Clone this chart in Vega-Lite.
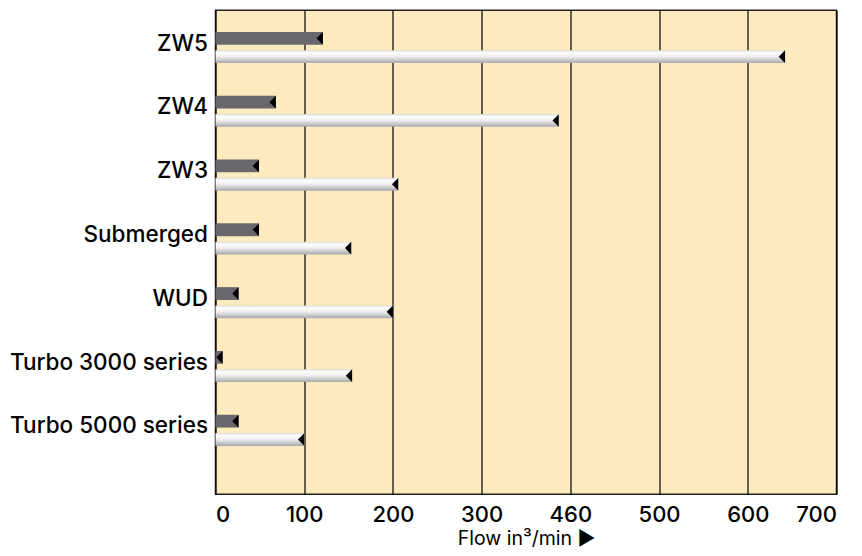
{
  "$schema": "https://vega.github.io/schema/vega-lite/v6.json",
  "autosize": {"type": "none"},
  "padding": {"left": 215.5, "top": 10.3, "right": 25.5, "bottom": 61.7},
  "width": 621,
  "height": 484,
  "background": "white",
  "config": {
    "view": {"fill": "#fdebbf", "stroke": "#222222", "strokeWidth": 1.5},
    "font": "Inter"
  },
  "data": {
    "values": [
      {"cat": "ZW5", "series": "a", "value": 121},
      {"cat": "ZW5", "series": "b", "value": 642},
      {"cat": "ZW4", "series": "a", "value": 68},
      {"cat": "ZW4", "series": "b", "value": 387},
      {"cat": "ZW3", "series": "a", "value": 49},
      {"cat": "ZW3", "series": "b", "value": 206},
      {"cat": "Submerged", "series": "a", "value": 49},
      {"cat": "Submerged", "series": "b", "value": 153},
      {"cat": "WUD", "series": "a", "value": 26},
      {"cat": "WUD", "series": "b", "value": 200},
      {"cat": "Turbo 3000 series", "series": "a", "value": 8},
      {"cat": "Turbo 3000 series", "series": "b", "value": 154},
      {"cat": "Turbo 5000 series", "series": "a", "value": 26},
      {"cat": "Turbo 5000 series", "series": "b", "value": 100}
    ]
  },
  "encoding": {
    "y": {
      "field": "cat",
      "type": "nominal",
      "sort": null,
      "scale": {"paddingInner": 0, "paddingOuter": 0.293, "align": 0.142},
      "axis": {
        "title": null,
        "ticks": false,
        "domain": false,
        "labelFont": "Inter",
        "labelFontSize": 22.5,
        "labelColor": "#000000",
        "labelPadding": 8,
        "labelOffset": -4,
        "labelLimit": 400,
        "labelFontWeight": 500
      }
    },
    "yOffset": {
      "field": "series",
      "type": "nominal",
      "scale": {"paddingInner": 0.3, "paddingOuter": 0.893}
    },
    "x": {
      "field": "value",
      "type": "quantitative",
      "scale": {"domain": [0, 700], "nice": false},
      "axis": {
        "values": [0, 100, 200, 300, 400, 500, 600, 700],
        "labelExpr": "datum.value == 400 ? '460' : datum.label",
        "title": "Flow in³/min ▶",
        "titleFont": "Inter",
        "titleFontSize": 19.5,
        "titleFontWeight": "normal",
        "titleColor": "#000000",
        "titlePadding": 4,
        "labelFont": "Inter",
        "labelFontSize": 22,
        "labelFontWeight": 500,
        "labelColor": "#000000",
        "labelPadding": 10,
        "ticks": false,
        "domain": false,
        "grid": true,
        "gridColor": "#000000",
        "gridWidth": 1.2,
        "gridOpacity": 1
      }
    }
  },
  "layer": [
    {
      "transform": [{"filter": "datum.series === 'a'"}],
      "mark": {"type": "bar", "color": "#68686c"}
    },
    {
      "transform": [{"filter": "datum.series === 'b'"}],
      "mark": {
        "type": "bar",
        "color": {
          "gradient": "linear",
          "x1": 0, "y1": 0, "x2": 0, "y2": 1,
          "stops": [
            {"offset": 0, "color": "#dcdcdc"},
            {"offset": 0.2, "color": "#ffffff"},
            {"offset": 0.5, "color": "#eeeeee"},
            {"offset": 1, "color": "#a8a8ac"}
          ]
        }
      }
    },
    {
      "mark": {
        "type": "point",
        "shape": "M0,-1L0,1L-1,0Z",
        "size": 160,
        "filled": true,
        "color": "#000000",
        "opacity": 1,
        "strokeWidth": 0
      }
    }
  ]
}
